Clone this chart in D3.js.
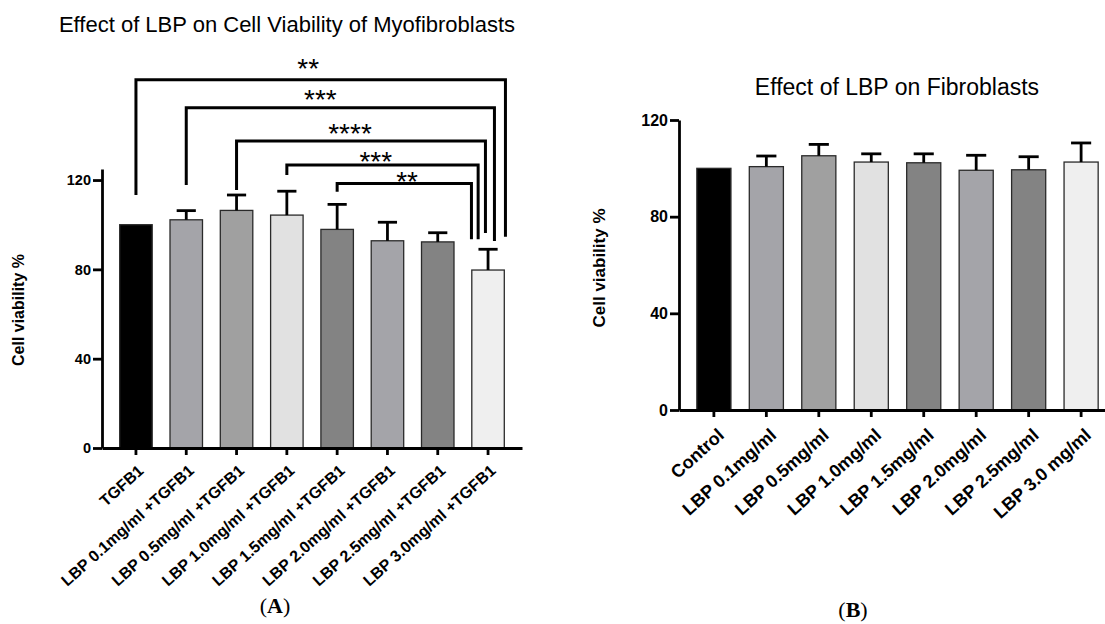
<!DOCTYPE html>
<html lang="en">
<head>
<meta charset="UTF-8">
<title>Effect of LBP on cell viability</title>
<style>
  body { margin: 0; background: #fff; }
  svg { display: block; font-family: "Liberation Sans", Arial, sans-serif; }
</style>
</head>
<body>
<svg id="chart" width="1105" height="624"></svg>
<script src="https://cdn.jsdelivr.net/npm/d3@7/dist/d3.min.js"></script>
<script>
// ---- data ----
const groupsA = ["TGFB1", "LBP 0.1mg/ml +TGFB1", "LBP 0.5mg/ml +TGFB1", "LBP 1.0mg/ml +TGFB1",
  "LBP 1.5mg/ml +TGFB1", "LBP 2.0mg/ml +TGFB1", "LBP 2.5mg/ml +TGFB1", "LBP 3.0mg/ml +TGFB1"];
const meanA = [100, 102.2, 106.4, 104.3, 97.9, 92.8, 92.3, 79.7];
const errA = [0, 4.1, 6.9, 10.7, 11.2, 8.3, 4.1, 9.3];

const groupsB = ["Control", "LBP 0.1mg/ml", "LBP 0.5mg/ml", "LBP 1.0mg/ml",
  "LBP 1.5mg/ml", "LBP 2.0mg/ml", "LBP 2.5mg/ml", "LBP 3.0 mg/ml"];
const meanB = [100, 100.7, 105.2, 102.6, 102.3, 99.2, 99.4, 102.6];
const errB = [0, 4.4, 4.7, 3.4, 3.7, 6.2, 5.4, 7.9];

const yTicks = [0, 40, 80, 120];
const barColors = ["#000000", "#a4a4a9", "#a0a0a0", "#e1e1e1", "#838383", "#a4a4a9", "#838383", "#efefef"];

// significance brackets in panel A: start bar -> last bar, heights in % units
const sigFrom = [0, 1, 2, 3, 4];
const sigLabel = ["**", "***", "****", "***", "**"];
const sigTop = [164.9, 152.4, 137.5, 126.7, 118.5];
const sigLeftEnd = [113.3, 117.8, 115.5, 122.3, 114.8];
const sigRightEnd = [94.6, 92.7, 96.3, 93.5, 93.5];
const sigLabelAt = [165.5, 152.0, 136.8, 124.0, 115.0];

const FONT = '"Liberation Sans", Arial, sans-serif';
const svg = d3.select('#chart');

function drawPanel(p) {
  const x = d3.scaleBand().domain(p.groups).range(p.xRange)
    .paddingInner(p.padIn).paddingOuter(p.padOut);
  const y = d3.scaleLinear().domain(p.yDomain).range(p.yRange);
  const g = svg.append('g');

  const rows = p.groups.map((name, i) => ({ name, mean: p.means[i], err: p.errs[i], color: barColors[i] }));
  const cx = d => x(d.name) + x.bandwidth() / 2;

  // bars
  g.selectAll('rect.bar').data(rows).join('rect')
    .attr('class', 'bar')
    .attr('x', d => x(d.name))
    .attr('y', d => y(d.mean))
    .attr('width', x.bandwidth())
    .attr('height', d => y(0) - y(d.mean))
    .attr('fill', d => d.color)
    .attr('stroke', '#2a2a2a')
    .attr('stroke-width', 1.3);

  // upper error bars only (SD above the mean)
  const capW = x.bandwidth() * 0.59;
  const eb = g.selectAll('g.err').data(rows.filter(d => d.err > 0)).join('g').attr('class', 'err');
  eb.append('line')
    .attr('x1', cx).attr('x2', cx)
    .attr('y1', d => y(d.mean)).attr('y2', d => y(d.mean + d.err));
  eb.append('line')
    .attr('x1', d => cx(d) - capW / 2).attr('x2', d => cx(d) + capW / 2)
    .attr('y1', d => y(d.mean + d.err)).attr('y2', d => y(d.mean + d.err));
  eb.selectAll('line').attr('stroke', '#000').attr('stroke-width', 2.8);

  // y axis
  const yAxis = g.append('g')
    .attr('transform', `translate(${p.xRange[0]},0)`)
    .call(d3.axisLeft(y).tickValues(yTicks).tickSize(9).tickSizeOuter(0).tickPadding(2));
  yAxis.selectAll('text').attr('font-size', p.tickFont).attr('font-weight', 'bold').attr('fill', '#000');

  // x axis
  const xAxis = g.append('g')
    .attr('transform', `translate(0,${p.yRange[0]})`)
    .call(d3.axisBottom(x).tickSize(7).tickSizeOuter(0));
  xAxis.selectAll('text')
    .attr('font-size', p.labelFont).attr('font-weight', 'bold').attr('fill', '#000')
    .attr('text-anchor', 'end')
    .attr('dy', '0.35em')
    .attr('y', 0)
    .attr('transform', `translate(${p.labelDx},${p.labelDy}) rotate(-42)`);

  [yAxis, xAxis].forEach(a => {
    a.attr('font-family', FONT);
    a.select('.domain').attr('stroke', '#000').attr('stroke-width', 2.8);
    a.selectAll('.tick line').attr('stroke', '#000').attr('stroke-width', 2.8);
  });

  // titles
  g.append('text')
    .attr('x', p.titleX).attr('y', p.titleY)
    .attr('text-anchor', 'middle')
    .attr('font-size', p.titleFont)
    .text(p.title);

  g.append('text')
    .attr('transform', `translate(${p.yLabelX},${p.yLabelY}) rotate(-90)`)
    .attr('text-anchor', 'middle')
    .attr('font-size', p.yLabelFont)
    .attr('font-weight', 'bold')
    .text('Cell viability %');

  // (A) / (B)
  const lab = g.append('text')
    .attr('x', p.letterX).attr('y', p.letterY)
    .attr('text-anchor', 'middle')
    .attr('font-family', '"Liberation Serif", "Times New Roman", serif')
    .attr('font-size', 22);
  lab.append('tspan').text('(');
  lab.append('tspan').attr('font-weight', 'bold').text(p.letter);
  lab.append('tspan').text(')');

  return { x, y, g };
}

const A = drawPanel({
  groups: groupsA, means: meanA, errs: errA,
  xRange: [102, 522], padIn: 0.354, padOut: 0.352,
  yDomain: [0, 125], yRange: [448, 448 - 125 * 2.233],
  tickFont: 14.5, labelFont: 16, labelDx: 5, labelDy: 20,
  title: 'Effect of LBP on Cell Viability of Myofibroblasts', titleX: 287, titleY: 32, titleFont: 22,
  yLabelX: 24, yLabelY: 310, yLabelFont: 16,
  letter: 'A', letterX: 275, letterY: 613
});

const B = drawPanel({
  groups: groupsB, means: meanB, errs: errB,
  xRange: [679, 1116], padIn: 0.35, padOut: 0.34,
  yDomain: [0, 120], yRange: [410, 120],
  tickFont: 16, labelFont: 18, labelDx: 7, labelDy: 22,
  title: 'Effect of LBP on Fibroblasts', titleX: 897, titleY: 95, titleFont: 23,
  yLabelX: 605, yLabelY: 268, yLabelFont: 17,
  letter: 'B', letterX: 853, letterY: 617
});

// significance brackets on panel A
const last = groupsA[groupsA.length - 1];
const rightOffsets = [17.4, 6.4, -2.6, -9.9, -16.6];
const labelShift = [-12.5, -20, -11, -6.7, 2.8];
sigFrom.forEach((fi, i) => {
  const x0 = A.x(groupsA[fi]) + A.x.bandwidth() / 2;
  const x1 = A.x(last) + A.x.bandwidth() / 2 + rightOffsets[i];
  A.g.append('path')
    .attr('d', `M${x0},${A.y(sigLeftEnd[i])}V${A.y(sigTop[i])}H${x1}V${A.y(sigRightEnd[i])}`)
    .attr('fill', 'none')
    .attr('stroke', '#000')
    .attr('stroke-width', 3);
  A.g.append('text')
    .attr('x', (x0 + x1) / 2 + labelShift[i])
    .attr('y', A.y(sigLabelAt[i]))
    .attr('text-anchor', 'middle')
    .attr('font-size', 28)
    .text(sigLabel[i]);
});
</script>
</body>
</html>
